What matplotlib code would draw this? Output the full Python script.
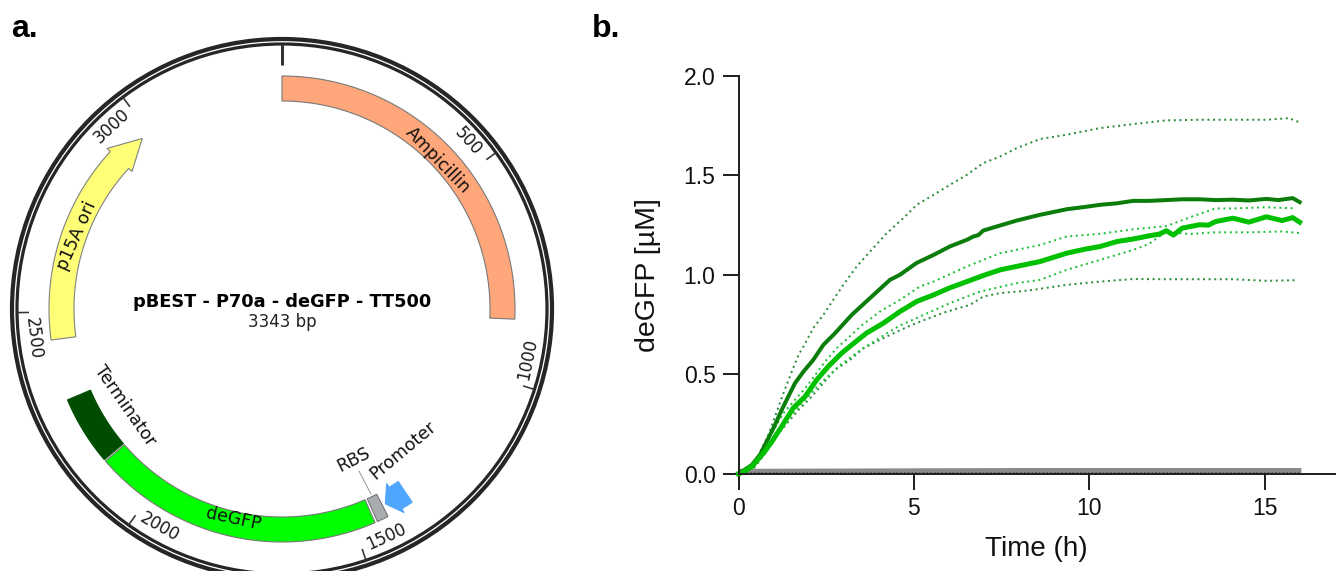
import numpy as np
import matplotlib
matplotlib.use("Agg")
import matplotlib.pyplot as plt
from matplotlib.patches import Circle, Polygon

W, H = 1340, 571
PLASMID_BP = 3343

# ---------- plasmid map data (bp) ----------
block_names = ["Ampicillin", "deGFP", "Terminator", "RBS"]
block_start = [0, 1453, 2133, 1420]
block_end = [859, 2129, 2294, 1447]
block_colors = ["#FFA77A", "#00FF00", "#004D00", "#A8ABB0"]
arrow_names = ["p15A ori", "Promoter"]
arrow_tail = [2436, 1356]
arrow_base = [2902, 1384]
arrow_tip = [2978, 1412]
arrow_colors = ["#FFFF77", "#4FA6FF"]
tick_bp = [500, 1000, 1500, 2000, 2500, 3000]
tick_names = ["500", "1000", "1500", "2000", "2500", "3000"]

# ---------- kinetics data ----------
t_dark = [0, .09, .38, .61, .85, 1.04, 1.23, 1.42, 1.61, 1.85, 2.13, 2.42, 2.75, 3.23, 3.75, 4.32, 4.6, 5.08, 5.56,
          6.03, 6.51, 6.7, 6.84, 6.98, 7.36, 7.93, 8.6, 9.36, 9.9, 10.3, 10.8, 11.25, 11.7, 12.2, 12.65, 13.15,
          13.6, 14.1, 14.55, 15.05, 15.4, 15.8, 16]
y_dark = [0, .01, .044, .094, .178, .245, .32, .388, .455, .513, .572, .648, .706, .799, .883, .975, 1.0, 1.06, 1.1,
          1.143, 1.176, 1.193, 1.2, 1.223, 1.243, 1.273, 1.302, 1.33, 1.342, 1.352, 1.36, 1.372, 1.372, 1.376, 1.38,
          1.38, 1.376, 1.378, 1.374, 1.382, 1.376, 1.386, 1.366]
t_light = [0, .1, .38, .71, .95, 1.23, 1.56, 1.9, 2.23, 2.56, 2.94, 3.23, 3.65, 4.13, 4.6, 5.08, 5.56, 6.03, 6.51,
           7.0, 7.46, 8.0, 8.6, 9.36, 9.9, 10.3, 10.8, 11.25, 11.7, 12.0, 12.2, 12.4, 12.65, 13.15, 13.4, 13.6, 14.1,
           14.55, 15.05, 15.5, 15.8, 16]
y_light = [0, .005, .036, .103, .161, .237, .33, .388, .472, .539, .606, .648, .707, .757, .815, .866, .899, .935,
           .966, .998, 1.025, 1.045, 1.067, 1.109, 1.13, 1.142, 1.168, 1.18, 1.196, 1.205, 1.222, 1.2, 1.235, 1.252,
           1.25, 1.268, 1.285, 1.265, 1.292, 1.273, 1.288, 1.265]
t_up_dark = [0, .2, .45, .85, 1.04, 1.28, 1.52, 1.71, 1.9, 2.13, 2.42, 2.7, 2.99, 3.37, 3.75, 4.23, 4.7, 5.08, 5.56,
             6.03, 6.51, 6.98, 7.46, 7.93, 8.6, 9.36, 10.3, 11.25, 12.2, 13.15, 14.1, 15.05, 15.7, 16]
y_up_dark = [0, .006, .05, .195, .287, .404, .513, .597, .655, .732, .799, .874, .95, 1.042, 1.117, 1.21, 1.285, 1.352,
             1.402, 1.453, 1.503, 1.562, 1.595, 1.637, 1.683, 1.705, 1.738, 1.758, 1.777, 1.78, 1.78, 1.78, 1.788, 1.767]
t_lo_dark = [0, .2, .45, .79, 1.2, 1.71, 2.09, 2.37, 2.75, 3.18, 3.56, 3.75, 4.32, 4.9, 5.4, 5.94, 6.6, 6.98, 7.46, 8.3,
             9.36, 10.3, 11.25, 12.2, 13.15, 14.1, 15.05, 15.9]
y_lo_dark = [0, .004, .03, .11, .215, .32, .388, .446, .522, .572, .631, .648, .698, .745, .78, .815, .849, .891, .908,
             .922, .95, .966, .979, .978, .978, .978, .97, .973]
t_up_light = [0, .2, .45, .95, 1.28, 1.94, 2.47, 2.8, 3.27, 3.47, 4.03, 4.6, 5.17, 5.56, 6.51, 7.46, 8.6,
              9.36, 10.3, 11.25, 12.2, 12.85, 13.6, 14.1, 15.05, 15.9]
y_up_light = [0, .005, .04, .203, .304, .438, .564, .631, .706, .74, .815, .874, .941, .966, 1.042, 1.109, 1.15,
              1.193, 1.206, 1.229, 1.245, 1.288, 1.334, 1.334, 1.34, 1.334]
t_lo_light = [0, .2, .45, .79, 1.3, 1.84, 2.31, 2.89, 3.46, 4.22, 4.6, 5.17, 6.03, 6.89, 7.93, 8.6,
              9.36, 10.3, 11.25, 11.7, 12.2, 12.85, 13.6, 14.55, 15.5, 16]
y_lo_light = [0, .004, .035, .125, .255, .36, .45, .545, .62, .705, .745, .79, .858, .916, .958, .975,
              1.025, 1.075, 1.125, 1.155, 1.218, 1.205, 1.214, 1.214, 1.218, 1.21]
t_blank = [0, 4, 8, 12, 16.05]
y_blank = [.012, .014, .016, .016, .016]
t_blank_dots = [0, 16.05]
y_blank_dots = [.003, .003]
x_ticks = [0, 5, 10, 15]
y_ticks = [0.0, 0.5, 1.0, 1.5, 2.0]

plt.rcParams["font.family"] = ["Liberation Sans", "DejaVu Sans"]
fig = plt.figure(figsize=(W / 100, H / 100), dpi=100)
px = 0.72  # points per pixel at dpi 100

# ---------- panel a: pixel-space overlay ----------
a = fig.add_axes([0, 0, 1, 1])
a.set_xlim(0, W)
a.set_ylim(H, 0)
a.axis("off")
CX, CY = 282, 309
R_OUT, R_IN = 233, 208
R_HEAD_OUT, R_HEAD_IN = 237.5, 203.5


def bp_ang(bp):
    return np.radians(np.asarray(bp, float) * 360.0 / PLASMID_BP)


def pol(r, ang):
    return CX + r * np.sin(ang), CY - r * np.cos(ang)


def arc(r, b0, b1, n=80):
    x, y = pol(r, bp_ang(np.linspace(b0, b1, n)))
    return np.column_stack([x, y])


a.add_patch(Circle((CX, CY), 270, fill=False, ec="#262626", lw=4.2 * px))
a.add_patch(Circle((CX, CY), 265, fill=False, ec="#262626", lw=3.2 * px))
a.plot(*zip(pol(265, 0), pol(244, 0)), color="#333333", lw=3 * px, solid_capstyle="butt")

for bp, name in zip(tick_bp, tick_names):
    ang = bp_ang(bp)
    a.plot(*zip(pol(265, ang), pol(253, ang)), color="#333333", lw=1.6 * px, solid_capstyle="butt")
    deg = bp * 360.0 / PLASMID_BP - 6
    lx, ly = pol(250.5, np.radians(deg))
    rot = 180 - deg if 90 < deg < 270 else -deg
    a.text(lx, ly, name, fontsize=12, family="DejaVu Sans", rotation=rot, rotation_mode="anchor",
           ha="center", va="center", color="#1a1a1a")

for s, e, c in zip(block_start, block_end, block_colors):
    pts = np.vstack([arc(R_OUT, s, e), arc(R_IN, e, s)])
    a.add_patch(Polygon(pts, closed=True, fc=c, ec="#777777" if c != "#004D00" else "#004D00", lw=1.1 * px))

for tail, base, tip, c in zip(arrow_tail, arrow_base, arrow_tip, arrow_colors):
    pts = np.vstack([arc(R_OUT, tail, base, 50),
                     [pol(R_HEAD_OUT, bp_ang(base))],
                     [pol((R_OUT + R_IN) / 2, bp_ang(tip))],
                     [pol(R_HEAD_IN, bp_ang(base))],
                     arc(R_IN, base, tail, 50)])
    a.add_patch(Polygon(pts, closed=True, fc=c, ec="#808080" if c == "#FFFF77" else "#4FA6FF", lw=1.1 * px))

a.plot([359, 371], [471, 494], color="#999999", lw=1 * px)

labs = [("Ampicillin", 438, 160, -46), ("p15A ori", 77, 236, 66), ("deGFP", 233, 519, -12),
        ("Terminator", 125, 406, -55), ("RBS", 354, 460, 27), ("Promoter", 403, 450, 40)]
for s, x, y, r in labs:
    a.text(x, y, s, fontsize=12.5, family="DejaVu Sans", rotation=r, rotation_mode="anchor",
           ha="center", va="center", color="#111111")

a.text(CX, 302, "pBEST - P70a - deGFP - TT500", fontsize=12.75, family="DejaVu Sans", weight="bold",
       ha="center", va="center", color="black")
a.text(CX, 322, "3343 bp", fontsize=12, family="DejaVu Sans", ha="center", va="center", color="#222222")
a.text(11, 29, "a.", fontsize=23, weight="bold", ha="left", va="center", color="black")
a.text(592, 29, "b.", fontsize=23, weight="bold", ha="left", va="center", color="black")

# ---------- panel b ----------
X0, X1, Y0, Y1 = 738.5, 738.5 + 17 * 35.07, 473.7, 76
b = fig.add_axes([X0 / W, 1 - Y0 / H, (X1 - X0) / W, (Y0 - Y1) / H])
b.patch.set_alpha(0)
b.set_xlim(0, 17)
b.set_ylim(0, 2)
for sp in ["top", "right"]:
    b.spines[sp].set_visible(False)
for sp in ["left", "bottom"]:
    b.spines[sp].set_linewidth(2 * px)
    b.spines[sp].set_color("#222222")
b.set_xticks(x_ticks)
b.set_yticks(y_ticks)
b.set_yticklabels([f"{v:.1f}" for v in y_ticks])
b.tick_params(axis="both", length=16 * px, width=2 * px, color="#222222", labelsize=16.5, pad=5, labelcolor="#111111")

dot = (0, (1, 1.8))
for tt, yy, c in [(t_up_dark, y_up_dark, "#2E8F3E"), (t_lo_dark, y_lo_dark, "#2E8F3E"),
                  (t_up_light, y_up_light, "#22C03A"), (t_lo_light, y_lo_light, "#22C03A")]:
    b.plot(tt, yy, color=c, lw=2 * px, linestyle=dot, clip_on=False)
b.plot(t_blank, y_blank, color="#8A8A8A", lw=5 * px, clip_on=False, solid_capstyle="butt")
b.plot(t_blank_dots, y_blank_dots, color="#444444", lw=1.5 * px, linestyle=(0, (1, 1.5)), clip_on=False)
b.plot(t_dark, y_dark, color="#0A7D0A", lw=4 * px, clip_on=False)
b.plot(t_light, y_light, color="#00C000", lw=5 * px, clip_on=False)
b.set_xlabel("Time (h)", fontsize=20, labelpad=12, color="#111111")
b.set_ylabel("deGFP [µM]", fontsize=20.5, labelpad=16, color="#111111")

fig.savefig("out.png", dpi=100, facecolor="white")
